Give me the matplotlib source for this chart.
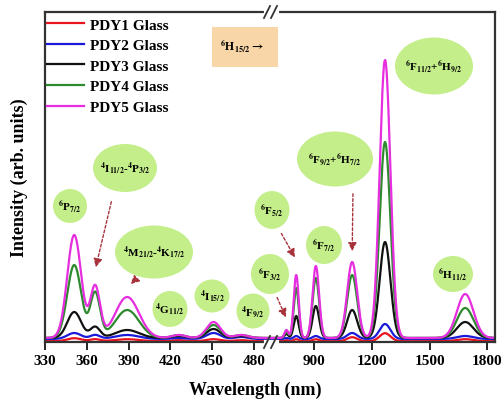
import numpy as np
import matplotlib.pyplot as plt
from matplotlib.patches import Ellipse, Rectangle
from matplotlib.lines import Line2D

plt.rcParams['font.family'] = 'Liberation Serif'
plt.rcParams['font.weight'] = 'bold'
plt.rcParams['mathtext.fontset'] = 'stix'
plt.rcParams['mathtext.default'] = 'bf'

# glasses and line colours
glasses = ['PDY1 Glass', 'PDY2 Glass', 'PDY3 Glass', 'PDY4 Glass', 'PDY5 Glass']
colors = ['#e8141e', '#1a1ad8', '#111111', '#2e8a2e', '#e62ee0']

# UV/Vis excitation bands (nm): centre, half width
uv_centers = [351, 366, 389, 426, 451, 471]
uv_widths = [5, 3.5, 8.5, 5, 5, 5]
# NIR bands (nm)
nir_centers = [755, 806, 908, 1097, 1268, 1685]
nir_widths = [10, 13, 17, 26, 28, 43]

# band heights per glass (arb. units)
uv_heights = [
    [3, 2, 2, 1, 2, 1],
    [6, 4, 4, 1, 6, 2],
    [26, 11, 8, 2, 9, 2],
    [73, 45, 28, 3, 13, 3],
    [103, 51, 41, 3, 16, 3],
]
nir_heights = [
    [1, 2, 2, 4, 8, 2],
    [1, 3, 3, 6, 15, 3],
    [4, 22, 32, 28, 96, 16],
    [6, 50, 60, 63, 196, 30],
    [8, 63, 72, 76, 278, 44],
]
baselines = [0.8, 3, 4, 4, 4]


def spectrum(x, centers, widths, heights, base):
    y = np.full_like(x, base, dtype=float)
    for c, w, h in zip(centers, widths, heights):
        y += h * np.exp(-0.5 * ((x - c) / w) ** 2)
    return y


W, H = 503, 402
fig = plt.figure(figsize=(W / 100, H / 100), dpi=100)


def fp(x, y):
    return (x / W, 1 - y / H)


x0, xb, x1 = 45, 272, 495
ytop, ybot = 13, 343
axL = fig.add_axes([x0 / W, 1 - ybot / H, (xb - x0) / W, (ybot - ytop) / H])
axR = fig.add_axes([xb / W, 1 - ybot / H, (x1 - xb) / W, (ybot - ytop) / H], sharey=axL)

xl = np.linspace(330, 493, 800)
xr = np.linspace(680, 1840, 1500)
handles = []
for i in range(5):
    axL.plot(xl, spectrum(xl, uv_centers, uv_widths, uv_heights[i], baselines[i]),
             color=colors[i], lw=1.6)
    axR.plot(xr, spectrum(xr, nir_centers, nir_widths, nir_heights[i], baselines[i]),
             color=colors[i], lw=1.6)
    handles.append(Line2D([], [], color=colors[i], lw=1.6, label=glasses[i]))

axL.set_xlim(330, 493)
axR.set_xlim(680, 1840)
axL.set_ylim(0, 330)
axL.set_xticks([330, 360, 390, 420, 450, 480])
axR.set_xticks([900, 1200, 1500, 1800])
axL.set_yticks([])
axR.tick_params(left=False, labelleft=False)

for ax in (axL, axR):
    ax.tick_params(axis='x', direction='out', length=6, width=1.2, labelsize=11, pad=3)
    for s in ax.spines.values():
        s.set_linewidth(1.6)
        s.set_color('#333333')
axL.spines['right'].set_visible(False)
axR.spines['left'].set_visible(False)

# axis break marks
for yy in (ytop, ybot):
    fig.add_artist(Line2D([fp(266, 0)[0], fp(277, 0)[0]], [fp(0, yy)[1]] * 2,
                          color='white', lw=3, zorder=5))
    for xx in (267, 274):
        fig.add_artist(Line2D([fp(xx - 3, 0)[0], fp(xx + 3, 0)[0]],
                              [fp(0, yy + 6)[1], fp(0, yy - 6)[1]],
                              color='#333333', lw=1.3, zorder=6))

fig.text(*fp(255, 390), 'Wavelength (nm)', ha='center', va='center', fontsize=13)
fig.text(*fp(19, 178), 'Intensity (arb. units)', ha='center', va='center',
         rotation=90, fontsize=13)

axL.legend(handles=handles, loc='upper left', bbox_to_anchor=fp(47, 19),
           bbox_transform=fig.transFigure, frameon=False, fontsize=11,
           handlelength=2.4, handletextpad=0.4, labelspacing=0.45, borderpad=0,
           borderaxespad=0)

# excitation box
fig.add_artist(Rectangle(fp(212, 68), 66 / W, 40 / H, transform=fig.transFigure,
                         facecolor='#f8d6a8', edgecolor='none', zorder=3))
fig.text(*fp(242, 46), r'$^{6}$H$_{15/2}$$\rightarrow$', ha='center', va='center',
         fontsize=8.5, zorder=4)

# level labels
labels = [
    ((70, 207), 34, 34, r'$^{6}$P$_{7/2}$'),
    ((125, 169), 64, 48, r'$^{4}$I$_{11/2}$-$^{4}$P$_{3/2}$'),
    ((154, 253), 78, 53, r'$^{4}$M$_{21/2}$-$^{4}$K$_{17/2}$'),
    ((170, 310), 35, 36, r'$^{4}$G$_{11/2}$'),
    ((212, 297), 35, 33, r'$^{4}$I$_{15/2}$'),
    ((253, 312), 33, 35, r'$^{4}$F$_{9/2}$'),
    ((272, 211), 35, 38, r'$^{6}$F$_{5/2}$'),
    ((270, 275), 38, 40, r'$^{6}$F$_{3/2}$'),
    ((324, 246), 36, 38, r'$^{6}$F$_{7/2}$'),
    ((335, 160), 76, 55, r'$^{6}$F$_{9/2}$+$^{6}$H$_{7/2}$'),
    ((434, 67), 78, 57, r'$^{6}$F$_{11/2}$+$^{6}$H$_{9/2}$'),
    ((453, 275), 40, 36, r'$^{6}$H$_{11/2}$'),
]
for (cx, cy), w, h, txt in labels:
    fig.add_artist(Ellipse(fp(cx, cy), w / W, h / H, transform=fig.transFigure,
                           facecolor='#c4ee8a', edgecolor='none', zorder=3))
    fig.text(*fp(cx, cy), txt, ha='center', va='center', fontsize=8, zorder=4)

arrow_kw = dict(arrowstyle='-|>,head_length=0.5,head_width=0.25', color='#a8323c',
                lw=1.0, linestyle=(0, (2, 1.5)))
arrows = [
    (axL, (366, 72), (112, 200)),
    (axL, (390, 56), (136, 280)),
    (axR, (758, 22), (276, 296)),
    (axR, (806, 82), (280, 232)),
    (axR, (1097, 88), (353, 192)),
]
for ax, tip, start in arrows:
    ax.annotate('', xy=tip, xycoords='data', xytext=fp(*start),
                textcoords='figure fraction', arrowprops=arrow_kw, zorder=5)

fig.savefig('out.png', dpi=100)
